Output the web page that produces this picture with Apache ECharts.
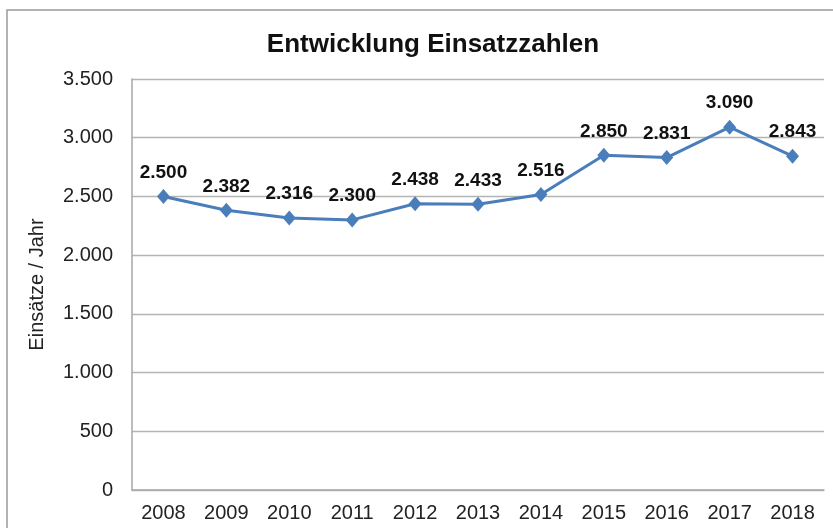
<!DOCTYPE html>
<html>
<head>
<meta charset="utf-8">
<script src="https://cdn.jsdelivr.net/npm/echarts@6/dist/echarts.min.js"></script>
<style>
  html, body { margin: 0; padding: 0; background: #fff; }
  #chart { width: 833px; height: 528px; }
</style>
</head>
<body>
<div id="chart"></div>
<script>
// Jahre und Einsätze pro Jahr
const years = ['2008', '2009', '2010', '2011', '2012', '2013', '2014', '2015', '2016', '2017', '2018'];
const einsaetze = [2500, 2382, 2316, 2300, 2438, 2433, 2516, 2850, 2831, 3090, 2843];
const yMin = 0;
const yMax = 3500;
const yStep = 500;

// Tausenderpunkt im deutschen Format
function fmt(v) {
  return String(v).replace(/\B(?=(\d{3})+(?!\d))/g, '.');
}

const FONT = '"Liberation Sans", Arial, sans-serif';
const chart = echarts.init(document.getElementById('chart'), null, { renderer: 'canvas' });

chart.setOption({
  animation: false,
  backgroundColor: '#ffffff',
  textStyle: { fontFamily: FONT },
  title: {
    text: 'Entwicklung Einsatzzahlen',
    left: 428,
    top: 27,
    textAlign: 'center',
    textStyle: { fontFamily: FONT, fontSize: 26, fontWeight: 'bold', color: '#111' }
  },
  graphic: [{
    type: 'rect',
    shape: { x: 7, y: 10, width: 860, height: 560 },
    style: { fill: 'none', stroke: '#9a9a9a', lineWidth: 1.5 },
    silent: true
  }],
  grid: { left: 132, right: 9, top: 79, bottom: 38 },
  xAxis: {
    type: 'category',
    data: years,
    boundaryGap: true,
    axisLine: { lineStyle: { color: '#a6a6a6', width: 1.5 } },
    axisTick: { show: false },
    axisLabel: { color: '#222', fontSize: 20, fontFamily: FONT, margin: 13 }
  },
  yAxis: {
    type: 'value',
    min: yMin,
    max: yMax,
    interval: yStep,
    name: 'Einsätze / Jahr',
    nameLocation: 'middle',
    nameGap: 85,
    nameRotate: 90,
    nameTextStyle: { color: '#222', fontSize: 20, fontFamily: FONT },
    axisLine: { show: true, lineStyle: { color: '#a6a6a6', width: 1.5 } },
    axisTick: { show: false },
    axisLabel: { color: '#222', fontSize: 20, fontFamily: FONT, margin: 19, formatter: fmt },
    splitLine: { lineStyle: { color: '#b4b4b4', width: 1.3 } }
  },
  series: [{
    type: 'line',
    data: einsaetze,
    symbol: 'diamond',
    symbolSize: [13, 15],
    lineStyle: { color: '#4a7ebb', width: 3 },
    itemStyle: { color: '#4a7ebb' },
    label: {
      show: true,
      position: 'top',
      distance: 7,
      formatter: p => fmt(p.value),
      color: '#111',
      fontSize: 19,
      fontWeight: 'bold',
      fontFamily: FONT
    }
  }]
});
</script>
</body>
</html>
